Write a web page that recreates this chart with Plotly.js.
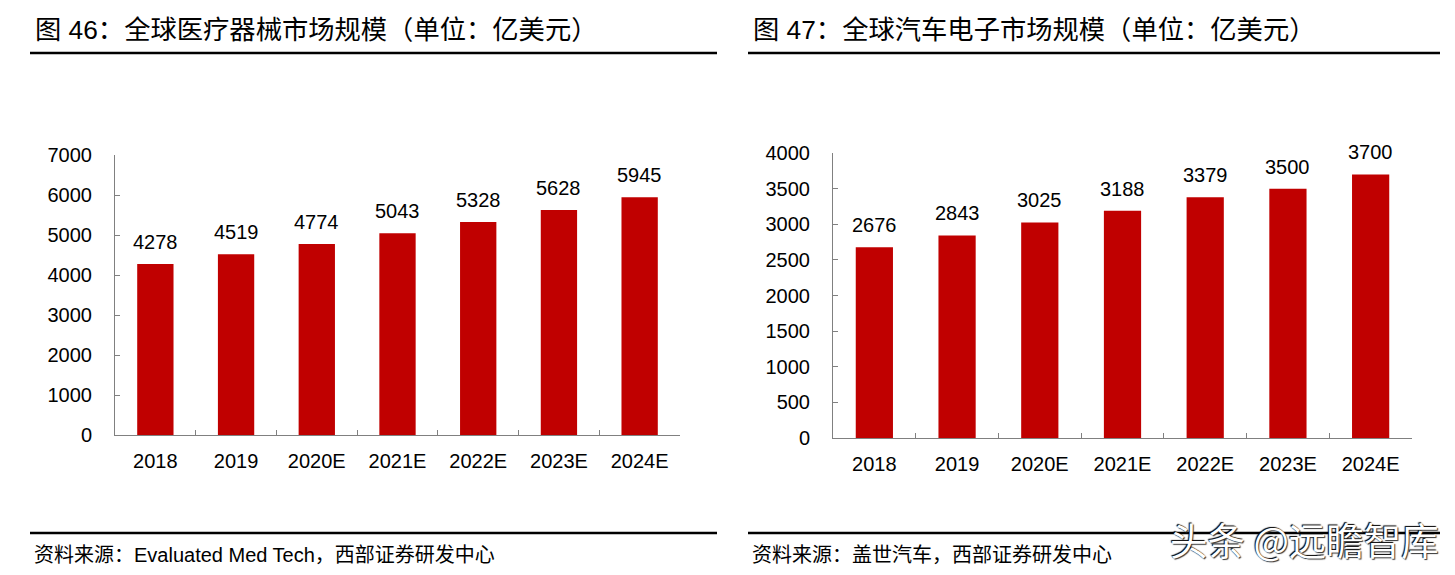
<!DOCTYPE html>
<html>
<head>
<meta charset="utf-8">
<script src="https://cdn.plot.ly/plotly-3.0.1.min.js"></script>
<style>html,body{margin:0;padding:0;background:#fff;}#chart{width:1455px;height:575px;}</style>
</head>
<body>
<div id="chart"></div>
<script>
// ---- data ----
const categories = ["2018", "2019", "2020E", "2021E", "2022E", "2023E", "2024E"];
const medicalValues = [4278, 4519, 4774, 5043, 5328, 5628, 5945];
const autoValues = [2676, 2843, 3025, 3188, 3379, 3500, 3700];
const leftTitle = "图 46：全球医疗器械市场规模（单位：亿美元）";
const rightTitle = "图 47：全球汽车电子市场规模（单位：亿美元）";
const leftSource = "资料来源：Evaluated Med Tech，西部证券研发中心";
const rightSource = "资料来源：盖世汽车，西部证券研发中心";
const watermark = "头条 @远瞻智库";

const W = 1455, H = 575;
const LATIN = "Arial, 'Liberation Sans', sans-serif";
const MIXED = "Arial, 'Liberation Sans', 'Noto Sans CJK SC', sans-serif";
const CJK = "'Noto Sans CJK SC', sans-serif";
const BAR = "#C00000";
const AX = "#808080";

const px = v => v / W;
const py = v => 1 - v / H;

const traces = [
  {type: "bar", x: categories, y: medicalValues, xaxis: "x", yaxis: "y",
   marker: {color: BAR}, hoverinfo: "skip"},
  {type: "bar", x: categories, y: autoValues, xaxis: "x2", yaxis: "y2",
   marker: {color: BAR}, hoverinfo: "skip"}
];

function xa(d, anchor) {
  return {domain: d, type: "category", categoryorder: "array", categoryarray: categories,
    range: [-0.5, categories.length - 0.5], anchor: anchor,
    showline: true, linecolor: AX, linewidth: 1,
    ticks: "inside", ticklen: 5, tickcolor: AX, tickson: "boundaries", tickangle: 0,
    showgrid: false, zeroline: false, fixedrange: true,
    tickfont: {family: LATIN, size: 20, color: "#000"}, ticklabelstandoff: 8};
}
function ya(d, r, dt, anchor) {
  return {domain: d, range: r, dtick: dt, tick0: 0, showline: true, linecolor: AX, linewidth: 1,
    ticks: "inside", ticklen: 5, tickcolor: AX, showgrid: false, zeroline: false,
    fixedrange: true, anchor: anchor,
    tickfont: {family: LATIN, size: 20, color: "#000"}, ticklabelstandoff: 18};
}

const annotations = [];
categories.forEach((c, i) => {
  annotations.push({xref: "x", yref: "y", x: i, y: medicalValues[i], text: String(medicalValues[i]),
    showarrow: false, yanchor: "bottom", yshift: 9, font: {family: LATIN, size: 20, color: "#000"}});
  annotations.push({xref: "x2", yref: "y2", x: i, y: autoValues[i], text: String(autoValues[i]),
    showarrow: false, yanchor: "bottom", yshift: 9, font: {family: LATIN, size: 20, color: "#000"}});
});
const textAnn = (t, x, y, size, extra) => Object.assign({xref: "paper", yref: "paper", x: px(x), y: py(y),
  text: t, showarrow: false, xanchor: "left", yanchor: "middle",
  font: {family: MIXED, size: size, color: "#000"}}, extra || {});
annotations.push(textAnn(leftTitle, 33, 30, 26.3));
annotations.push(textAnn(rightTitle, 751, 30, 26.3));
annotations.push(textAnn(leftSource, 32, 555, 20));
annotations.push(textAnn(rightSource, 750, 555, 20));
annotations.push(textAnn(watermark, 1168, 538, 37.5, {font: {family: CJK, size: 37.5, color: "#fff",
  shadow: "-1px -1px 1px #000, 1px 1px 1px #333"}}));

const line = (x0, x1, y) => ({type: "line", xref: "paper", yref: "paper", x0: px(x0), x1: px(x1),
  y0: py(y), y1: py(y), line: {color: "#000", width: 2.5}});
const shapes = [line(30, 717, 53), line(748, 1440, 53), line(30, 717, 533), line(748, 1440, 533)];

const layout = {
  width: W, height: H, margin: {l: 0, r: 0, t: 0, b: 0},
  paper_bgcolor: "#fff", plot_bgcolor: "rgba(0,0,0,0)", showlegend: false,
  bargap: 0.55,
  xaxis: xa([px(115), px(680)], "y"),
  yaxis: ya([py(435), py(155)], [0, 7000], 1000, "x"),
  xaxis2: xa([px(833), px(1412)], "y2"),
  yaxis2: ya([py(438), py(153)], [0, 4000], 500, "x2"),
  annotations: annotations, shapes: shapes
};

Plotly.newPlot("chart", traces, layout, {displayModeBar: false, staticPlot: true});
</script>
</body>
</html>
